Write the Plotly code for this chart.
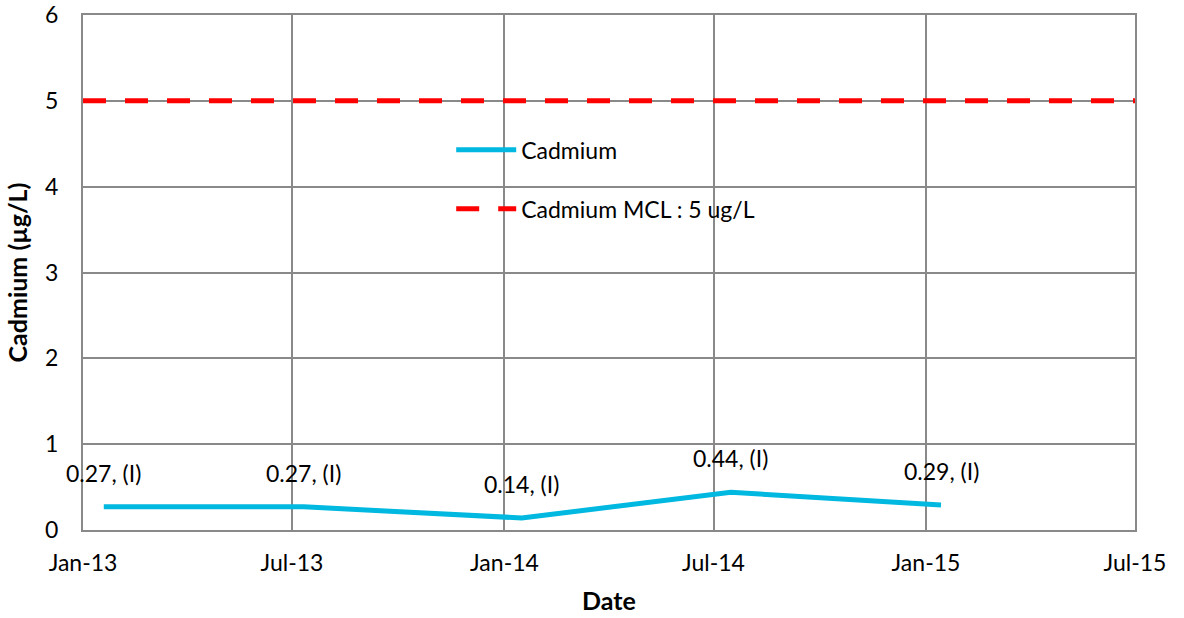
import plotly.graph_objects as go

# Cadmium sample results (µg/L) with qualifier flags
sample_dates = ["2013-01-19", "2013-07-11", "2014-01-16", "2014-07-16", "2015-01-14"]
cadmium_values = [0.27, 0.27, 0.14, 0.44, 0.29]
qualifiers = ["(I)", "(I)", "(I)", "(I)", "(I)"]

# Maximum contaminant level across the full date range
mcl_dates = ["2013-01-01", "2015-07-01"]
mcl_value = 5

# Axis ticks
x_tick_vals = ["2013-01-01", "2013-07-01", "2014-01-01", "2014-07-01", "2015-01-01", "2015-07-01"]
x_tick_text = ["Jan-13", "Jul-13", "Jan-14", "Jul-14", "Jan-15", "Jul-15"]
y_tick_vals = [0, 1, 2, 3, 4, 5, 6]

FONT = "Lato"
SIZE = 23
TITLE_SIZE = 25
GRID = "#898989"

fig = go.Figure()

fig.add_trace(go.Scatter(
    x=sample_dates, y=cadmium_values, mode="lines", name="Cadmium",
    legendgroup="a",
    line=dict(color="#00B8E0", width=5),
))

fig.add_trace(go.Scatter(
    x=mcl_dates, y=[mcl_value] * len(mcl_dates), mode="lines",
    name=f"Cadmium MCL : {mcl_value} ug/L",
    legendgroup="b",
    line=dict(color="#FF0000", width=5, dash="23px,19px"),
))

# Value labels above each sample
for d, v, q in zip(sample_dates, cadmium_values, qualifiers):
    fig.add_annotation(
        x=d, y=v, text=f"{v:.2f}, {q}", showarrow=False,
        yshift=34, font=dict(family=FONT, size=SIZE, color="#000000"),
    )

fig.update_layout(
    width=1184, height=618,
    margin=dict(l=83, r=49, t=15, b=88, autoexpand=False),
    paper_bgcolor="white", plot_bgcolor="white",
    font=dict(family=FONT, size=SIZE, color="#000000"),
    showlegend=True,
    legend=dict(
        x=0.35, y=0.78, xanchor="left", yanchor="top",
        bgcolor="rgba(0,0,0,0)", font=dict(family=FONT, size=SIZE),
        tracegroupgap=26, itemwidth=60,
    ),
    xaxis=dict(
        type="date", range=[x_tick_vals[0], x_tick_vals[-1]],
        tickvals=x_tick_vals, ticktext=x_tick_text,
        showgrid=True, gridcolor=GRID, gridwidth=2,
        showline=True, linecolor=GRID, linewidth=2, mirror=True,
        ticks="", ticklabelstandoff=11, automargin=False,
        tickfont=dict(family=FONT, size=SIZE),
        title=dict(text="<b>Date</b>", font=dict(family=FONT, size=TITLE_SIZE), standoff=18),
        zeroline=False,
    ),
    yaxis=dict(
        range=[0, 6], tickvals=y_tick_vals,
        showgrid=True, gridcolor=GRID, gridwidth=2,
        showline=True, linecolor=GRID, linewidth=2, mirror=True,
        ticks="", ticklabelstandoff=18, automargin=False,
        tickfont=dict(family=FONT, size=SIZE),
        title=dict(text="<b>Cadmium (µg/L)</b>", font=dict(family=FONT, size=TITLE_SIZE), standoff=10),
        zeroline=False,
    ),
)

fig.write_html("out.html")
